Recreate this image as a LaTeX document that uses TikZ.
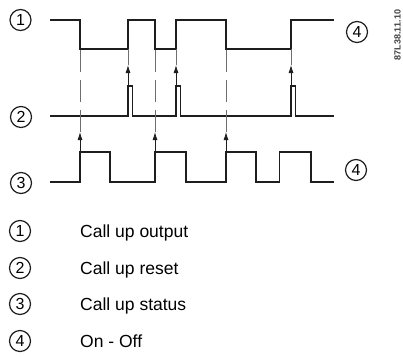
\documentclass[tikz,border=0pt]{standalone}
\usepackage{fontspec}
\setmainfont{Liberation Sans}
\usetikzlibrary{arrows.meta}
\definecolor{linha}{RGB}{30,30,30}
\definecolor{tracejado}{RGB}{110,110,110}

\begin{document}
\begin{tikzpicture}[
    x=1pt,
    y=-1pt,
    sinal/.style={
        draw=linha,
        line width=1.7pt
    },
    guia/.style={
        draw=tracejado,
        line width=0.9pt,
        dash pattern=on 22pt off 8pt
    },
    seta/.style={
        -{Latex[length=8pt,width=5pt]},
        draw=linha,
        line width=0.8pt
    },
    num/.style={
        draw=linha,
        circle,
        line width=1.2pt,
        minimum size=21pt,
        inner sep=0pt,
        font=\fontsize{16}{16}\selectfont
    },
    legenda/.style={
        anchor=base west,
        inner sep=0pt,
        font=\fontsize{17.5}{21}\selectfont
    }
]

\useasboundingbox (0,0) rectangle (403,356);

\draw[sinal] (50,20) -| (80,49) -| (128,20) -| (155,49) -| (176,20)
    -| (226,49) -| (291,20) -- (334,20);

\draw[sinal] (50,116) -| (128,86) -| (132.5,116) -| (176,86)
    -| (180.5,116) -| (291,86) -| (295.5,116) -- (334,116);

\draw[sinal] (50,182) -| (80,152) -| (110,182) -| (155,152) -| (186,182)
    -| (226,152) -| (256,182) -| (279.5,152) -| (311,182) -- (334,182);

\foreach \x/\nome in {80/a, 155/b, 226/c} {
    \coordinate (pe\nome) at (\x,152);
    \coordinate (ponta\nome) at (\x,132);
    \coordinate (alvo\nome) at (\x,49);
    \draw[seta] (pe\nome) -- (ponta\nome);
    \draw[guia] (ponta\nome) -- (alvo\nome);
}

\foreach \x/\nome in {128/d, 176/e, 291/f} {
    \coordinate (pe\nome) at (\x,86);
    \coordinate (ponta\nome) at (\x,65);
    \coordinate (alvo\nome) at (\x,49);
    \draw[seta] (pe\nome) -- (ponta\nome);
    \draw[guia] (ponta\nome) -- (alvo\nome);
}

\node[num] (saida) at (20.5,20) {1};
\node[num] (reset) at (21,117) {2};
\node[num] (estado) at (21,183) {3};
\node[num] (liga) at (357,32) {4};
\node[num] (desliga) at (356,170) {4};

\node[rotate=90, inner sep=0pt, text=linha!85,
    font=\fontsize{9}{9}\selectfont\bfseries] (codigo) at (397.5,35)
{87L38.11.10};

\node[num] (l1) at (20,231) {1};
\node[legenda] (t1) at (80,237) {Call up output};

\node[num] (l2) at (20,268) {2};
\node[legenda] (t2) at (80,274) {Call up reset};

\node[num] (l3) at (20,304) {3};
\node[legenda] (t3) at (80,310) {Call up status};

\node[num] (l4) at (20,341) {4};
\node[legenda] (t4) at (80,347) {On - Off};

\end{tikzpicture}
\end{document}
